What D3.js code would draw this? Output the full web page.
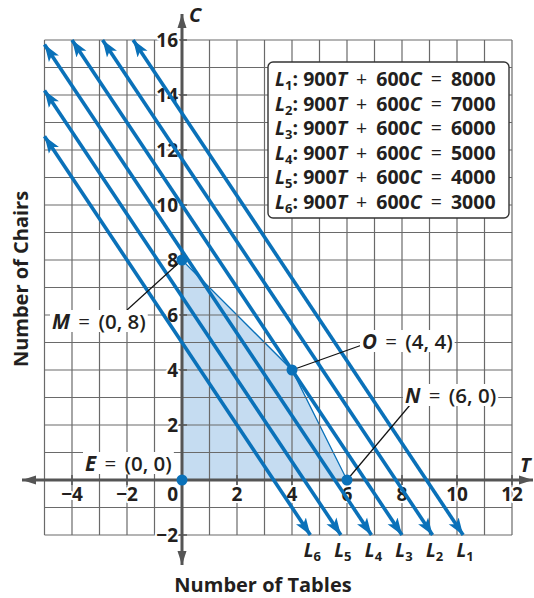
<!DOCTYPE html>
<html>
<head>
<meta charset="utf-8">
<script src="https://cdn.jsdelivr.net/npm/d3@7"></script>
<style>
  body { margin: 0; background: #fff; }
  text { font-family: "Open Sans", "Noto Sans", sans-serif; font-weight: 700; fill: #231f20; }
</style>
</head>
<body>
<div id="chart"></div>
<script>
// profit lines 900T + 600C = k
var lineNames = ["1", "2", "3", "4", "5", "6"];
var lineTotals = [8000, 7000, 6000, 5000, 4000, 3000];
var coefT = 900, coefC = 600;

// feasible region corners
var region = [[0, 0], [0, 8], [4, 4], [6, 0]];

var pointNames = ["E", "M", "O", "N"];
var pointT = [0, 0, 4, 6];
var pointC = [0, 8, 4, 0];

var xTicks = [-4, -2, 0, 2, 4, 6, 8, 10, 12];
var yTicks = [-2, 2, 4, 6, 8, 10, 12, 14, 16];

var width = 534, height = 598;
var blue = "#0a71b9", axisGray = "#555";

var x = d3.scaleLinear().domain([-5, 12]).range([44.5, 512]);
var y = d3.scaleLinear().domain([-2, 16]).range([535, 40]);

var svg = d3.select("#chart").append("svg")
    .attr("width", width)
    .attr("height", height);

var defs = svg.append("defs");
defs.append("marker")
    .attr("id", "blueArrow")
    .attr("markerUnits", "userSpaceOnUse")
    .attr("viewBox", "-17 -6.5 18 13")
    .attr("refX", 0).attr("refY", 0)
    .attr("markerWidth", 18).attr("markerHeight", 13)
    .attr("orient", "auto-start-reverse")
    .append("path").attr("d", "M0,0L-17,-6L-13,0L-17,6Z").attr("fill", blue);
defs.append("marker")
    .attr("id", "grayArrow")
    .attr("markerUnits", "userSpaceOnUse")
    .attr("viewBox", "-14 -5 15 10")
    .attr("refX", 0).attr("refY", 0)
    .attr("markerWidth", 15).attr("markerHeight", 10)
    .attr("orient", "auto-start-reverse")
    .append("path").attr("d", "M0,0L-14,-4.5L-14,4.5Z").attr("fill", axisGray);

// feasible region
svg.append("polygon")
    .attr("points", region.map(p => [x(p[0]), y(p[1])].join(",")).join(" "))
    .attr("fill", "#c5dcf1")
    .attr("stroke", blue)
    .attr("stroke-width", 1.3);

// grid, drawn over the shading
var grid = svg.append("g").attr("stroke", "#6a6a6a").attr("stroke-width", 1.2);
grid.selectAll("line.v").data(d3.range(-5, 13)).enter().append("line")
    .attr("x1", d => x(d)).attr("x2", d => x(d))
    .attr("y1", y(16)).attr("y2", y(-2));
grid.selectAll("line.h").data(d3.range(-2, 17)).enter().append("line")
    .attr("y1", d => y(d)).attr("y2", d => y(d))
    .attr("x1", x(-5)).attr("x2", x(12));

// axes
var axes = svg.append("g").attr("stroke", axisGray);
axes.append("line")
    .attr("x1", 22).attr("x2", 533).attr("y1", y(0)).attr("y2", y(0))
    .attr("stroke-width", 3)
    .attr("marker-start", "url(#grayArrow)").attr("marker-end", "url(#grayArrow)");
axes.append("line")
    .attr("x1", x(0)).attr("x2", x(0)).attr("y1", 565).attr("y2", 14)
    .attr("stroke-width", 3)
    .attr("marker-start", "url(#grayArrow)").attr("marker-end", "url(#grayArrow)");
axes.selectAll("line.xt").data(xTicks.filter(d => d !== 0)).enter().append("line")
    .attr("x1", d => x(d)).attr("x2", d => x(d))
    .attr("y1", y(0) - 5).attr("y2", y(0) + 5).attr("stroke-width", 1.5);
axes.selectAll("line.yt").data(yTicks).enter().append("line")
    .attr("y1", d => y(d)).attr("y2", d => y(d))
    .attr("x1", x(0) - 5).attr("x2", x(0) + 5).attr("stroke-width", 1.5);

// tick labels with a white halo
function halo(sel) {
    sel.attr("stroke", "#fff").attr("stroke-width", 4)
        .attr("stroke-linejoin", "round").attr("paint-order", "stroke");
}
svg.selectAll("text.xl").data(xTicks).enter().append("text")
    .attr("x", d => d === 0 ? x(0) - 4 : x(d))
    .attr("y", y(0) + 21)
    .attr("text-anchor", d => d === 0 ? "end" : "middle")
    .attr("font-size", 19)
    .call(halo)
    .text(d => d < 0 ? "\u2212" + Math.abs(d) : d);
svg.selectAll("text.yl").data(yTicks).enter().append("text")
    .attr("x", x(0) - 4)
    .attr("y", d => y(d) + 7)
    .attr("text-anchor", "end")
    .attr("font-size", 19)
    .call(halo)
    .text(d => d < 0 ? "\u2212" + Math.abs(d) : d);

svg.append("text").attr("x", 189).attr("y", 22).attr("font-size", 20)
    .attr("font-style", "italic").text("C");
svg.append("text").attr("x", 520).attr("y", 472).attr("font-size", 20)
    .attr("font-style", "italic").text("T");

// profit lines, clipped to the grid box
function segment(k) {
    var pts = [];
    [-5, 12].forEach(function(t) {
        var c = (k - coefT * t) / coefC;
        if (c >= -2 && c <= 16) pts.push([t, c]);
    });
    [-2, 16].forEach(function(c) {
        var t = (k - coefC * c) / coefT;
        if (t >= -5 && t <= 12) pts.push([t, c]);
    });
    pts.sort((a, b) => a[0] - b[0]);
    return pts;
}

var lines = lineTotals.map((k, i) => ({ name: lineNames[i], k: k, pts: segment(k) }));

svg.append("g").selectAll("line").data(lines).enter().append("line")
    .attr("x1", d => x(d.pts[0][0])).attr("y1", d => y(d.pts[0][1]))
    .attr("x2", d => x(d.pts[1][0])).attr("y2", d => y(d.pts[1][1]))
    .attr("stroke", blue).attr("stroke-width", 3.6)
    .attr("marker-start", "url(#blueArrow)").attr("marker-end", "url(#blueArrow)");

// line names under the arrows
var names = svg.append("g").selectAll("text").data(lines).enter().append("text")
    .attr("x", d => x(d.pts[1][0]) + 2)
    .attr("y", 557)
    .attr("text-anchor", "middle")
    .attr("font-size", 19);
names.append("tspan").attr("font-style", "italic").text("L");
names.append("tspan").attr("font-size", 13).attr("dy", 4).text(d => d.name);

// legend
var legend = svg.append("g");
legend.append("rect")
    .attr("x", 268).attr("y", 62).attr("width", 241).attr("height", 156)
    .attr("rx", 5).attr("fill", "#fff").attr("stroke", "#333").attr("stroke-width", 1.4);
var rows = legend.selectAll("text").data(lines).enter().append("text")
    .attr("x", 275)
    .attr("y", (d, i) => 86 + i * 24.6)
    .attr("font-size", 19.5);
rows.append("tspan").attr("font-style", "italic").text("L");
rows.append("tspan").attr("font-size", 13).attr("dy", 4).text(d => d.name);
rows.append("tspan").attr("dy", -4).text(": " + coefT);
rows.append("tspan").attr("font-style", "italic").text("T");
rows.append("tspan").attr("font-weight", 400).attr("dx", 4).text(" + ");
rows.append("tspan").attr("dx", 4).text(coefC);
rows.append("tspan").attr("font-style", "italic").text("C");
rows.append("tspan").attr("font-weight", 400).attr("dx", 4).text(" = ");
rows.append("tspan").attr("dx", 4).text(d => d.k);

// corner points
var pts = pointNames.map((n, i) => ({ name: n, t: pointT[i], c: pointC[i] }));
var labelPos = {
    E: { x: 85, y: 471, lead: null },
    M: { x: 52, y: 329, lead: [127, 310] },
    O: { x: 362, y: 349, lead: [362, 345] },
    N: { x: 405, y: 403, lead: [410, 405] }
};

var leaders = svg.append("g");
var labels = svg.append("g");
pts.forEach(function(p) {
    var lp = labelPos[p.name];
    if (lp.lead) {
        leaders.append("line")
            .attr("x1", lp.lead[0]).attr("y1", lp.lead[1])
            .attr("x2", x(p.t)).attr("y2", y(p.c))
            .attr("stroke", "#111").attr("stroke-width", 1.2);
    }
    var g = labels.append("g");
    var t = g.append("text").attr("x", lp.x).attr("y", lp.y).attr("font-size", 20.5);
    t.append("tspan").attr("font-style", "italic").text(p.name);
    t.append("tspan").attr("font-weight", 400).attr("dx", 3).text(" = ");
    t.append("tspan").attr("font-weight", 600).attr("dx", 3).text("(" + p.t + ", " + p.c + ")");
    var b = t.node().getBBox();
    g.insert("rect", "text")
        .attr("x", b.x - 2).attr("y", b.y + 3)
        .attr("width", b.width + 4).attr("height", b.height - 6)
        .attr("fill", "#fff");
});

svg.append("g").selectAll("circle").data(pts).enter().append("circle")
    .attr("cx", d => x(d.t)).attr("cy", d => y(d.c))
    .attr("r", 5.5).attr("fill", blue);

// axis titles
svg.append("text")
    .attr("x", 263).attr("y", 592)
    .attr("text-anchor", "middle").attr("font-size", 20)
    .text("Number of Tables");
svg.append("text")
    .attr("transform", "translate(28,279) rotate(-90)")
    .attr("text-anchor", "middle").attr("font-size", 20)
    .text("Number of Chairs");
</script>
</body>
</html>
